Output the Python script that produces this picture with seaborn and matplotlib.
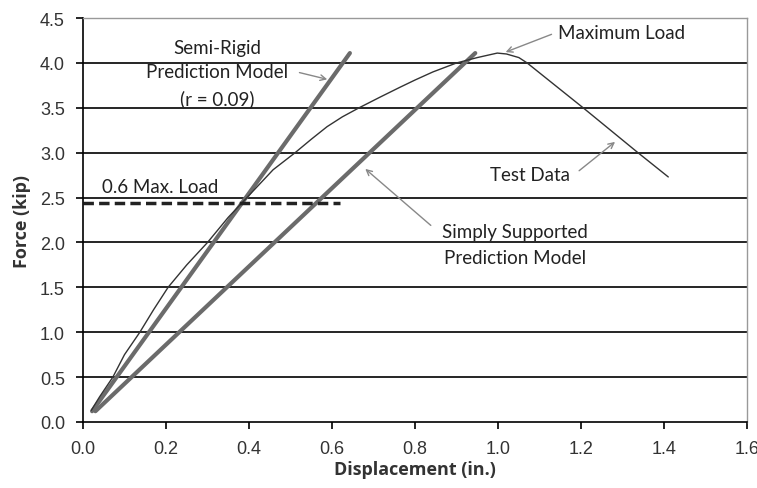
import pandas as pd
import seaborn as sns
import matplotlib.pyplot as plt

# datos
test_x = [0.02, 0.04, 0.072, 0.10, 0.137, 0.17, 0.205, 0.25, 0.30, 0.35, 0.395, 0.458,
          0.511, 0.55, 0.588, 0.625, 0.665, 0.716, 0.764, 0.80, 0.843, 0.90, 0.95, 0.998,
          1.02, 1.05, 1.07, 1.205, 1.337, 1.41]
test_y = [0.13, 0.28, 0.50, 0.75, 1.00, 1.25, 1.50, 1.75, 2.00, 2.28, 2.50, 2.81,
          3.00, 3.15, 3.29, 3.40, 3.50, 3.62, 3.73, 3.81, 3.90, 4.00, 4.06, 4.11,
          4.10, 4.06, 4.00, 3.50, 3.00, 2.73]

semi_x = [0.022, 0.643]
semi_y = [0.12, 4.11]

simple_x = [0.03, 0.945]
simple_y = [0.12, 4.11]

max_load_x = [0.0, 0.62]
max_load_y = [2.44, 2.44]

x_ticks = [0.0, 0.2, 0.4, 0.6, 0.8, 1.0, 1.2, 1.4, 1.6]
y_ticks = [0.0, 0.5, 1.0, 1.5, 2.0, 2.5, 3.0, 3.5, 4.0, 4.5]

sns.set_style("white")
plt.rcParams['font.family'] = ['Liberation Sans', 'DejaVu Sans']

fig = plt.figure(figsize=(7.57, 4.89), dpi=100)
ax = fig.add_axes([0.1096, 0.135, 0.8774, 0.826])

# lineas de la grilla
for yv in y_ticks[1:-1]:
    ax.axhline(yv, color="black", lw=1.2, zorder=0)

df_test = pd.DataFrame({"x": test_x, "y": test_y})
df_semi = pd.DataFrame({"x": semi_x, "y": semi_y})
df_simple = pd.DataFrame({"x": simple_x, "y": simple_y})
df_max = pd.DataFrame({"x": max_load_x, "y": max_load_y})

sns.lineplot(data=df_semi, x="x", y="y", ax=ax, color="#6b6b6b", lw=3, sort=False)
sns.lineplot(data=df_simple, x="x", y="y", ax=ax, color="#6b6b6b", lw=3, sort=False)
sns.lineplot(data=df_test, x="x", y="y", ax=ax, color="#333333", lw=1.0, sort=False)
sns.lineplot(data=df_max, x="x", y="y", ax=ax, color="#222222", lw=2.5,
             linestyle=(0, (3, 1.5)), sort=False)

ax.set_xlim(0, 1.6)
ax.set_ylim(0, 4.5)
ax.set_xticks(x_ticks)
ax.set_yticks(y_ticks)
ax.set_xticklabels([f"{v:.1f}" for v in x_ticks], fontsize=13, color="#333333")
ax.set_yticklabels([f"{v:.1f}" for v in y_ticks], fontsize=13, color="#333333")
ax.tick_params(axis="both", direction="out", length=5, width=1.2, color="black",
               bottom=True, left=True)
ax.tick_params(axis="y", pad=8)
ax.tick_params(axis="x", pad=8)
ax.set_xlabel("Displacement (in.)", fontsize=13, fontweight="bold", color="#333333",
              family=["Open Sans", "DejaVu Sans"], labelpad=2)
ax.set_ylabel("Force (kip)", fontsize=13, fontweight="bold", color="#333333",
              family=["Open Sans", "DejaVu Sans"], labelpad=6)

for s in ["left", "bottom"]:
    ax.spines[s].set_color("black")
    ax.spines[s].set_linewidth(1.2)
for s in ["top", "right"]:
    ax.spines[s].set_color("#999999")
    ax.spines[s].set_linewidth(1.0)

ann = dict(fontsize=13.5, family=["Lato", "DejaVu Sans"], color="#222222")
arrow = dict(arrowstyle="->", color="#888888", lw=1.0)

ax.text(0.323, 4.17, "Semi-Rigid", ha="center", va="center", **ann)
ax.text(0.323, 3.90, "Prediction Model", ha="center", va="center", **ann)
ax.text(0.323, 3.61, "(r = 0.09)", ha="center", va="center", **ann)
ax.annotate("", xy=(0.595, 3.81), xytext=(0.515, 3.90), arrowprops=arrow)

ax.text(0.045, 2.62, "0.6 Max. Load", ha="left", va="center", **ann)

ax.text(1.145, 4.34, "Maximum Load", ha="left", va="center", **ann)
ax.annotate("", xy=(1.012, 4.11), xytext=(1.135, 4.33), arrowprops=arrow)

ax.text(1.077, 2.76, "Test Data", ha="center", va="center", **ann)
ax.annotate("", xy=(1.287, 3.14), xytext=(1.19, 2.78), arrowprops=arrow)

ax.text(1.04, 2.12, "Simply Supported", ha="center", va="center", **ann)
ax.text(1.04, 1.83, "Prediction Model", ha="center", va="center", **ann)
ax.annotate("", xy=(0.675, 2.84), xytext=(0.843, 2.17), arrowprops=arrow)

fig.savefig("out.png", dpi=100)
